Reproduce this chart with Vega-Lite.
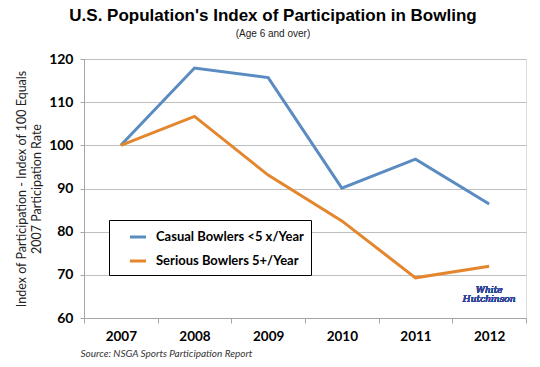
{
  "$schema": "https://vega.github.io/schema/vega-lite/v6.json",
  "width": 442,
  "height": 259,
  "autosize": "none",
  "padding": {"left": 84, "top": 59, "right": 14, "bottom": 49},
  "background": "white",
  "title": {
    "text": "U.S. Population's Index of Participation in Bowling",
    "subtitle": "(Age 6 and over)",
    "font": "Liberation Sans",
    "fontSize": 17,
    "fontWeight": "bold",
    "color": "#000000",
    "subtitleFont": "Liberation Sans",
    "subtitleFontSize": 10,
    "subtitleColor": "#222222",
    "subtitlePadding": 4,
    "anchor": "middle",
    "dx": -32,
    "offset": 12
  },
  "data": {
    "values": [
      {"year": "2007", "series": "Casual Bowlers <5 x/Year", "index": 100},
      {"year": "2008", "series": "Casual Bowlers <5 x/Year", "index": 117.9},
      {"year": "2009", "series": "Casual Bowlers <5 x/Year", "index": 115.7},
      {"year": "2010", "series": "Casual Bowlers <5 x/Year", "index": 90.1},
      {"year": "2011", "series": "Casual Bowlers <5 x/Year", "index": 96.8},
      {"year": "2012", "series": "Casual Bowlers <5 x/Year", "index": 86.4},
      {"year": "2007", "series": "Serious Bowlers 5+/Year", "index": 100},
      {"year": "2008", "series": "Serious Bowlers 5+/Year", "index": 106.7},
      {"year": "2009", "series": "Serious Bowlers 5+/Year", "index": 93.1},
      {"year": "2010", "series": "Serious Bowlers 5+/Year", "index": 82.5},
      {"year": "2011", "series": "Serious Bowlers 5+/Year", "index": 69.3},
      {"year": "2012", "series": "Serious Bowlers 5+/Year", "index": 72.0}
    ]
  },
  "layer": [
    {
      "mark": {"type": "line", "strokeWidth": 3, "strokeJoin": "miter"},
      "encoding": {
        "x": {
          "field": "year",
          "type": "ordinal",
          "bandPosition": 0.5,
          "scale": {"type": "band", "paddingInner": 0, "paddingOuter": 0},
          "axis": {
            "title": "Source: NSGA Sports Participation Report",
            "titleFont": "Lato",
            "titleFontSize": 10,
            "titleFontStyle": "italic",
            "titleFontWeight": "normal",
            "titleColor": "#333333",
            "titleAnchor": "start",
            "titleAlign": "left",
            "titleX": -4,
            "titlePadding": 6,
            "labelAngle": 0,
            "labelFont": "Lato",
            "labelFontSize": 13.5,
            "labelFontWeight": "bold",
            "labelColor": "#000000",
            "labelPadding": 6,
            "tickBand": "extent",
            "tickSize": 5,
            "tickColor": "#a6a6a6",
            "domainColor": "#a6a6a6",
            "grid": false
          }
        },
        "y": {
          "field": "index",
          "type": "quantitative",
          "scale": {"domain": [60, 120], "nice": false, "zero": false},
          "axis": {
            "values": [60, 70, 80, 90, 100, 110, 120],
            "title": ["Index of Participation - Index of 100  Equals", "2007 Participation Rate"],
            "titleFont": "Lato",
            "titleFontSize": 12.5,
            "titleFontWeight": "normal",
            "titleColor": "#222222",
            "titlePadding": 5,
            "titleLineHeight": 15,
            "labelFont": "Lato",
            "labelFontSize": 14,
            "labelFontWeight": "bold",
            "labelColor": "#000000",
            "labelPadding": 7,
            "tickSize": 4,
            "tickColor": "#a6a6a6",
            "domainColor": "#a6a6a6",
            "gridColor": "#bfbfbf",
            "gridWidth": 1
          }
        },
        "color": {
          "field": "series",
          "type": "nominal",
          "scale": {"domain": ["Casual Bowlers <5 x/Year", "Serious Bowlers 5+/Year"], "range": ["#5b8cc1", "#e3862d"]},
          "legend": {
            "title": null,
            "orient": "none",
            "legendX": 25,
            "legendY": 161,
            "strokeColor": "#000000",
            "fillColor": "#ffffff",
            "padding": 7,
            "symbolType": "stroke",
            "symbolStrokeWidth": 3,
            "symbolSize": 260,
            "labelFont": "Lato",
            "labelFontSize": 13,
            "labelFontWeight": "bold",
            "labelColor": "#000000",
            "labelOffset": 8,
            "rowPadding": 7,
            "symbolOffset": 12
          }
        }
      }
    },
    {
      "mark": {"type": "text", "font": "DejaVu Serif", "fontStyle": "italic", "fontWeight": "normal", "fontSize": 9, "color": "#34469a", "lineHeight": 9, "align": "center"},
      "encoding": {
        "x": {"datum": "2012", "type": "ordinal", "bandPosition": 0.5},
        "y": {"datum": 66.5},
        "text": {"value": ["White", "Hutchinson"]}
      }
    }
  ]
}
